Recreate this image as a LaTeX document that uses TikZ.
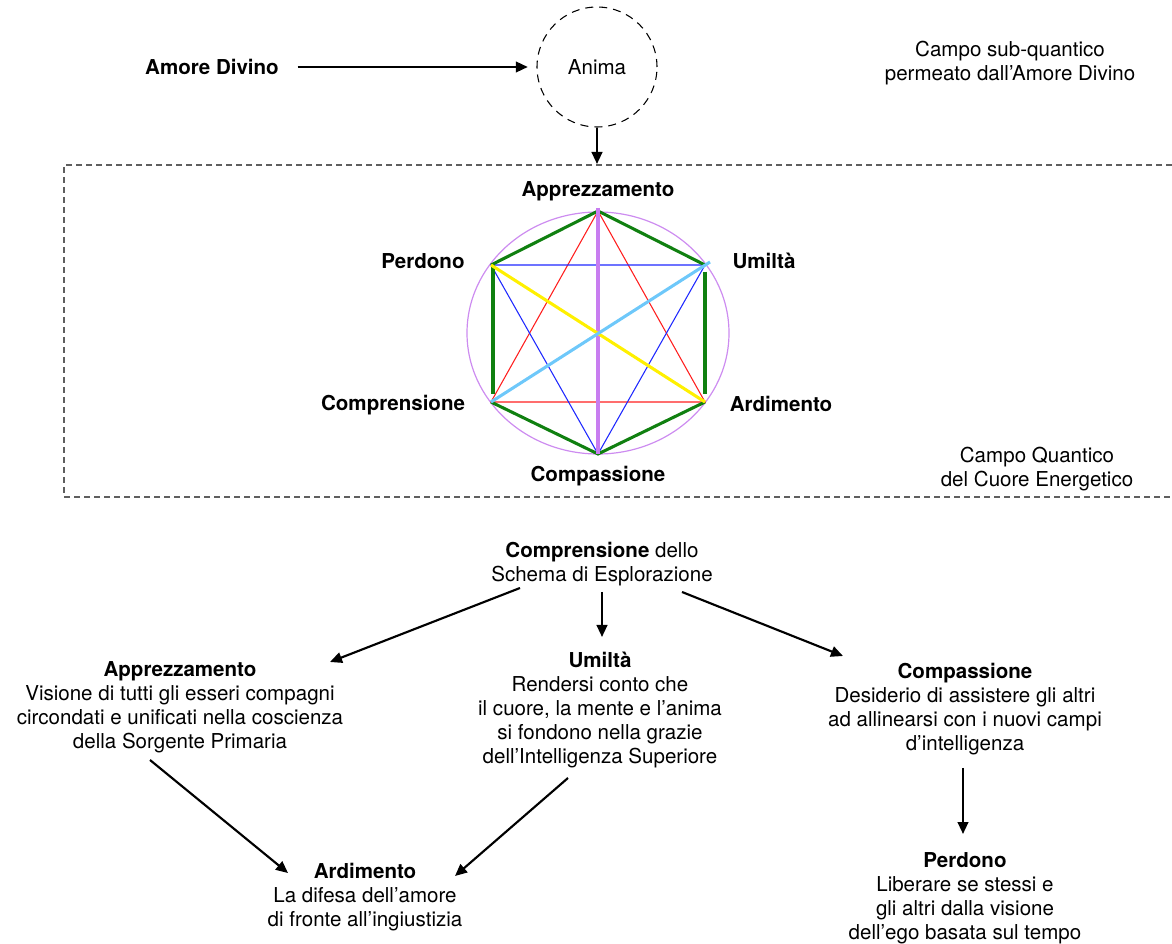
\documentclass[tikz,border=0pt]{standalone}
\usepackage{fontspec}
\setmainfont{TeX Gyre Heros}
\usetikzlibrary{arrows.meta}
\definecolor{hgreen}{RGB}{16,128,16}
\definecolor{hred}{RGB}{255,30,30}
\definecolor{hblue}{RGB}{30,40,255}
\definecolor{hyellow}{RGB}{255,240,0}
\definecolor{hsky}{RGB}{110,200,250}
\definecolor{hviolet}{RGB}{200,125,240}
\definecolor{hcircle}{RGB}{205,140,240}
\definecolor{boxgray}{RGB}{95,95,95}
\begin{document}
\begin{tikzpicture}[x=0.75pt,y=-0.75pt,
  txt/.style={font=\fontsize{15.4}{18}\selectfont, align=center, inner sep=0pt},
  bold/.style={font=\fontsize{15.4}{18}\selectfont\bfseries, align=center, inner sep=0pt},
  arr/.style={line width=1.6pt, -{Triangle[length=9pt,width=8pt]}},
  thin/.style={line width=0.8pt},
  thick/.style={line width=2.3pt}]
\useasboundingbox (0,0) rectangle (1172,944);

% top
\node[bold] (amore) at (212,67) {Amore Divino};
\node[circle, draw, line width=0.8pt, dash pattern=on 6pt off 4.5pt, minimum size=90pt, inner sep=0pt, txt] (anima) at (597,67) {Anima};
\node[txt] (sub) at (1010,63) {Campo sub-quantico\\permeato dall'Amore Divino};
\draw[arr] ([xshift=14pt]amore.east) -- ([xshift=-6.5pt]anima.west);
\coordinate (boxtop) at (597,164);
\draw[arr] (anima.south) -- (boxtop);

% dashed field box (open at right)
\draw[boxgray, line width=1.6pt, dash pattern=on 4.5pt off 3pt] (1172,165) -- (64,165) -- (64,497) -- (1172,497);
\node[txt] (cq) at (1037,469) {Campo Quantico\\del Cuore Energetico};

% hexagon
\coordinate (A)  at (598,211);
\coordinate (U)  at (705,265);
\coordinate (Ar) at (705,402);
\coordinate (Cp) at (598,454);
\coordinate (Cm) at (491,402);
\coordinate (P)  at (491,265);
\coordinate (Ux) at (710,262);
\coordinate (At) at (598,208);
\draw[hcircle, line width=0.9pt] (598,333) ellipse [x radius=131, y radius=121];
\draw[hred, thin] (A) -- (Cm) -- (Ar) -- cycle;
\draw[hblue, thin] (P) -- (U) -- (Cp) -- cycle;
\draw[hgreen, thick] (P) -- (A) -- (U);
\draw[hgreen, thick] (Cm) -- (Cp) -- (Ar);
\draw[hgreen, thick] ([xshift=1.5pt]P) -- ([xshift=1.5pt,yshift=6pt]Cm);
\draw[hgreen, thick] ([yshift=-5pt]U) -- ([yshift=6pt]Ar);
\draw[hviolet, thick] (At) -- (Cp);
\draw[hyellow, thick] (P) -- (Ar);
\draw[hsky, thick] (Cm) -- (Ux);

\node[bold] (lA)  at (598,191) {Apprezzamento};
\node[bold] (lU)  at (764,261) {Umiltà};
\node[bold] (lP)  at (423,261) {Perdono};
\node[bold] (lCm) at (393,405) {Comprensione};
\node[bold] (lAr) at (781,404) {Ardimento};
\node[bold] (lCp) at (598,476) {Compassione};

% lower scheme
\node[txt] (cd) at (602,564) {\textbf{Comprensione} dello\\Schema di Esplorazione};
\node[txt] (bapp) at (180,707) {\textbf{Apprezzamento}\\Visione di tutti gli esseri compagni\\circondati e unificati nella coscienza\\della Sorgente Primaria};
\node[txt] (bumi) at (600,710) {\textbf{Umiltà}\\Rendersi conto che\\il cuore, la mente e l'anima\\si fondono nella grazie\\dell'Intelligenza Superiore};
\node[txt] (bcomp) at (965,709) {\textbf{Compassione}\\Desiderio di assistere gli altri\\ad allinearsi con i nuovi campi\\d'intelligenza};
\node[txt] (bperd) at (965,898) {\textbf{Perdono}\\Liberare se stessi e\\gli altri dalla visione\\dell'ego basata sul tempo};
\node[txt] (bard) at (365,897) {\textbf{Ardimento}\\La difesa dell'amore\\di fronte all'ingiustizia};

\coordinate (s1) at (520,588); \coordinate (e1) at (330,662);
\coordinate (s2) at (602,592); \coordinate (e2) at (602,637);
\coordinate (s3) at (682,592); \coordinate (e3) at (843,656);
\coordinate (s4) at (150,760); \coordinate (e4) at (288,873);
\coordinate (s5) at (568,778); \coordinate (e5) at (455,876);
\coordinate (s6) at (963,768); \coordinate (e6) at (963,834);
\draw[arr] (s1) -- (e1);
\draw[arr] (s2) -- (e2);
\draw[arr] (s3) -- (e3);
\draw[arr] (s4) -- (e4);
\draw[arr] (s5) -- (e5);
\draw[arr] (s6) -- (e6);
\end{tikzpicture}
\end{document}
